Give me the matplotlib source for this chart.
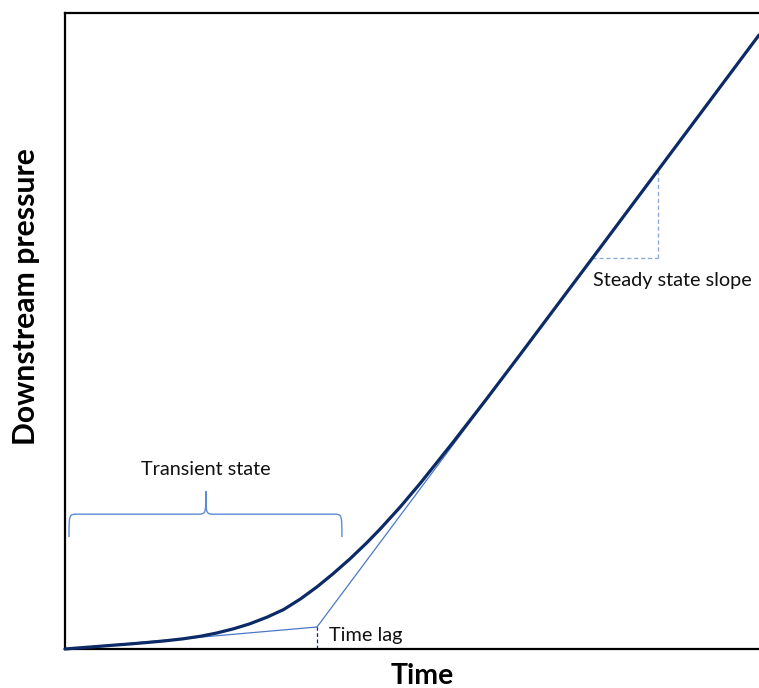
import matplotlib
matplotlib.use("Agg")
import matplotlib.pyplot as plt
from matplotlib.path import Path
from matplotlib.patches import PathPatch

# ---- data (arbitrary units) ----
time = [0, 2.3, 4.7, 7.0, 9.4, 11.8, 14.4, 17.0, 19.5, 21.8, 24.2, 26.6,
        29.1, 31.5, 33.9, 36.3, 38.6, 41.1, 43.5, 45.4, 48.3, 51.2, 55.9,
        60.8, 65.6, 77.1, 91.5, 100]
pressure = [0, 0.2, 0.4, 0.6, 0.8, 1.02, 1.28, 1.6, 2.0, 2.5, 3.15, 3.95,
            5.0, 6.2, 7.85, 9.76, 11.81, 14.21, 16.72, 18.85, 22.33, 26.07,
            32.49, 39.40, 46.32, 63.07, 84.12, 96.54]

# time-lag construction (asymptote)
lag_time = 36.31
lag_pressure = 3.46
asym_end_time = 100.0
asym_end_pressure = 96.54

# steady-state slope triangle
tri_t0, tri_t1 = 76.0, 85.45
tri_p0, tri_p1 = 61.48, 75.2

# transient bracket
br_t0, br_t1, br_tmid = 0.58, 39.9, 20.3
br_p_end, br_p_flat, br_p_peak = 17.6, 21.2, 24.8

labels = {
    "xlabel": "Time",
    "ylabel": "Downstream pressure",
    "transient": "Transient state",
    "lag": "Time lag",
    "slope": "Steady state slope",
}

W, H = 759, 688
fig = plt.figure(figsize=(W / 100, H / 100), dpi=100)
ax = fig.add_axes([65 / W, (H - 649) / H, 1 - 65 / W, (649 - 13) / H])
ax.set_xlim(0, 100)
ax.set_ylim(0, 100)
ax.set_xticks([])
ax.set_yticks([])
for s in ["left", "top", "bottom"]:
    ax.spines[s].set_linewidth(1.6)
    ax.spines[s].set_color("black")
ax.spines["right"].set_visible(False)

thin = "#4a78c8"
navy = "#0b2a66"

# construction lines
ax.plot([0, lag_time], [0, lag_pressure], color=thin, lw=0.9, zorder=2)
ax.plot([lag_time, asym_end_time], [lag_pressure, asym_end_pressure],
        color=thin, lw=0.9, zorder=2)
ax.plot([lag_time, lag_time], [0, lag_pressure], color=navy, lw=0.9,
        ls=(0, (3, 2)), zorder=2)

# main curve
ax.plot(time, pressure, color=navy, lw=2.3, solid_capstyle="round",
        solid_joinstyle="round", zorder=3, clip_on=False)

# steady state slope triangle
tri_col = "#8eaadb"
ax.plot([tri_t1, tri_t1], [tri_p0, tri_p1], color=tri_col, lw=1.0,
        ls=(0, (3, 2)), zorder=1)
ax.plot([tri_t0, tri_t1], [tri_p0, tri_p0], color=tri_col, lw=1.0,
        ls=(0, (3, 2)), zorder=1)

# curly bracket
c = 1.2
verts = [
    (br_t0, br_p_end),
    (br_t0, br_p_flat), (br_t0, br_p_flat), (br_t0 + c, br_p_flat),
    (br_tmid - c, br_p_flat),
    (br_tmid, br_p_flat), (br_tmid, br_p_flat), (br_tmid, br_p_peak),
    (br_tmid, br_p_flat), (br_tmid, br_p_flat), (br_tmid + c, br_p_flat),
    (br_t1 - c, br_p_flat),
    (br_t1, br_p_flat), (br_t1, br_p_flat), (br_t1, br_p_end),
]
codes = [Path.MOVETO,
         Path.CURVE4, Path.CURVE4, Path.CURVE4,
         Path.LINETO,
         Path.CURVE4, Path.CURVE4, Path.CURVE4,
         Path.CURVE4, Path.CURVE4, Path.CURVE4,
         Path.LINETO,
         Path.CURVE4, Path.CURVE4, Path.CURVE4]
ax.add_patch(PathPatch(Path(verts, codes), facecolor="none",
                       edgecolor="#5b8bd6", lw=1.0))

font = "Lato"
ax.text(br_tmid, 28.3, labels["transient"], ha="center", va="center",
        fontsize=14.3, family=font, color="#111111")
ax.text(38.0, 2.2, labels["lag"], ha="left", va="center",
        fontsize=14.3, family=font, color="#111111")
ax.text(87.5, 57.9, labels["slope"], ha="center", va="center",
        fontsize=14.3, family=font, color="#111111")

fig.text(422 / W, 1 - 676 / H, labels["xlabel"], ha="center", va="center",
         fontsize=20.5, fontweight="bold", family=font)
fig.text(26 / W, 1 - 297 / H, labels["ylabel"], ha="center", va="center",
         rotation=90, fontsize=21.7, fontweight="bold", family=font)

fig.savefig("out.png", dpi=100)
